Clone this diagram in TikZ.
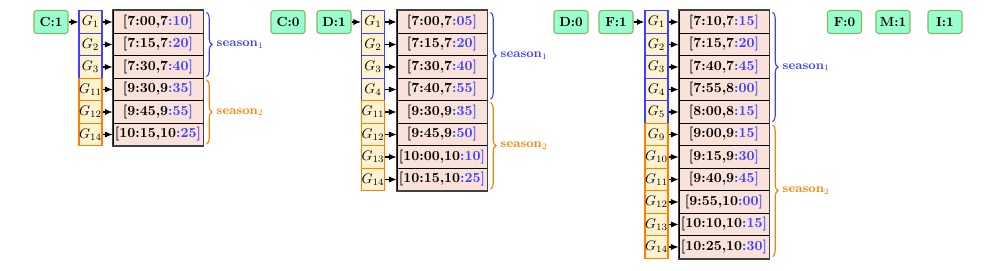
\documentclass[tikz,border=0pt]{standalone}
\usepackage{amsmath,amssymb}
\usepackage{tikz}
\usetikzlibrary{arrows.meta,calc,positioning,decorations.pathreplacing}
\definecolor{trnBlue}{RGB}{64,64,255}
\definecolor{trnOrange}{RGB}{255,128,0}
\definecolor{trnGreen}{RGB}{153,255,204}
\definecolor{trnGreenEdge}{RGB}{130,185,110}
\definecolor{trnYellow}{RGB}{255,242,206}
\definecolor{trnPink}{RGB}{248,226,218}
\tikzset{
 trn status/.style={draw=trnGreenEdge,fill=trnGreen,thick,rounded corners=2pt,
                    minimum width=24.5pt,minimum height=16.5pt,inner sep=0pt,
                    font=\fontsize{9.5}{11}\selectfont\bfseries},
 trn group/.style={fill=trnYellow,thick,minimum width=16.6pt,minimum height=16.2pt,
                   inner sep=0pt},
 trn slot/.style={draw=black,fill=trnPink,semithick,minimum width=64.8pt,
                  minimum height=16.2pt,inner sep=0pt,font=\bfseries},
 trn arrow/.style={thick,-{Latex[length=5.5pt,width=4.5pt]}},
 trn frame/.style={draw=black!75,line width=1.2pt},
 trn brace/.style={thick,decorate,decoration={brace,amplitude=4pt}},
 trn season/.style={font=\small\bfseries,inner sep=1pt}
}
\newcommand{\trnslot}[3]{[#1,#2\textcolor{trnBlue}{:#3]}}

\begin{document}
\begin{tikzpicture}[x=0.72pt,y=-0.72pt]
 \useasboundingbox (0,0) rectangle (997,271);
 % station states
 \foreach \n/\t/\x in {c1/C:1/51,c0/C:0/288,d1/D:1/334,d0/D:0/571,
                       f1/F:1/616,f0/F:0/844.5,m1/M:1/893,i1/I:1/945}{
   \node[trn status] (\n) at (\x,22) {\t};
 }
 % C
 \foreach \g/\c/\lo/\hi/\hm [count=\r] in {1/trnBlue/7:00/7/10,2/trnBlue/7:15/7/20,
     3/trnBlue/7:30/7/40,11/trnOrange/9:30/9/35,12/trnOrange/9:45/9/55,
     14/trnOrange/10:15/10/25}{
   \node[trn group,draw=\c] (ga\r) at (90.5,{22+22.5*(\r-1)}) {$G_{\g}$};
   \node[trn slot] (sa\r) at (158,{22+22.5*(\r-1)}) {\trnslot{\lo}{\hi}{\hm}};
   \draw[trn arrow] (ga\r) -- (sa\r);
 }
 \draw[trn arrow] (c1) -- (ga1);
 \draw[trn frame] (sa1.north west) rectangle (sa6.south east);
 \draw[trn brace,trnBlue] ($(sa1.north east)+(3,2)$) -- ($(sa3.south east)+(3,-2)$)
   node[midway,right=6pt,trn season,text=trnBlue] {season$_1$};
 \draw[trn brace,trnOrange] ($(sa4.north east)+(3,2)$) -- ($(sa6.south east)+(3,-2)$)
   node[midway,right=6pt,trn season,text=trnOrange] {season$_2$};
 % D
 \foreach \g/\c/\lo/\hi/\hm [count=\r] in {1/trnBlue/7:00/7/05,2/trnBlue/7:15/7/20,
     3/trnBlue/7:30/7/40,4/trnBlue/7:40/7/55,11/trnOrange/9:30/9/35,
     12/trnOrange/9:45/9/50,13/trnOrange/10:00/10/10,14/trnOrange/10:15/10/25}{
   \node[trn group,draw=\c] (gb\r) at (373,{22+22.5*(\r-1)}) {$G_{\g}$};
   \node[trn slot] (sb\r) at (442,{22+22.5*(\r-1)}) {\trnslot{\lo}{\hi}{\hm}};
   \draw[trn arrow] (gb\r) -- (sb\r);
 }
 \draw[trn arrow] (d1) -- (gb1);
 \draw[trn frame] (sb1.north west) rectangle (sb8.south east);
 \draw[trn brace,trnBlue] ($(sb1.north east)+(3,2)$) -- ($(sb4.south east)+(3,-2)$)
   node[midway,right=6pt,trn season,text=trnBlue] {season$_1$};
 \draw[trn brace,trnOrange] ($(sb5.north east)+(3,2)$) -- ($(sb8.south east)+(3,-2)$)
   node[midway,right=6pt,trn season,text=trnOrange] {season$_2$};
 % F
 \foreach \g/\c/\lo/\hi/\hm [count=\r] in {1/trnBlue/7:10/7/15,2/trnBlue/7:15/7/20,
     3/trnBlue/7:40/7/45,4/trnBlue/7:55/8/00,5/trnBlue/8:00/8/15,
     9/trnOrange/9:00/9/15,10/trnOrange/9:15/9/30,11/trnOrange/9:40/9/45,
     12/trnOrange/9:55/10/00,13/trnOrange/10:10/10/15,14/trnOrange/10:25/10/30}{
   \node[trn group,draw=\c] (gc\r) at (656.5,{22+22.5*(\r-1)}) {$G_{\g}$};
   \node[trn slot] (sc\r) at (724,{22+22.5*(\r-1)}) {\trnslot{\lo}{\hi}{\hm}};
   \draw[trn arrow] (gc\r) -- (sc\r);
 }
 \draw[trn arrow] (f1) -- (gc1);
 \draw[trn frame] (sc1.north west) rectangle (sc11.south east);
 \draw[trn brace,trnBlue] ($(sc1.north east)+(3,2)$) -- ($(sc5.south east)+(3,-2)$)
   node[midway,right=6pt,trn season,text=trnBlue] {season$_1$};
 \draw[trn brace,trnOrange] ($(sc6.north east)+(3,2)$) -- ($(sc11.south east)+(3,-2)$)
   node[midway,right=6pt,trn season,text=trnOrange] {season$_2$};
\end{tikzpicture}
\end{document}
